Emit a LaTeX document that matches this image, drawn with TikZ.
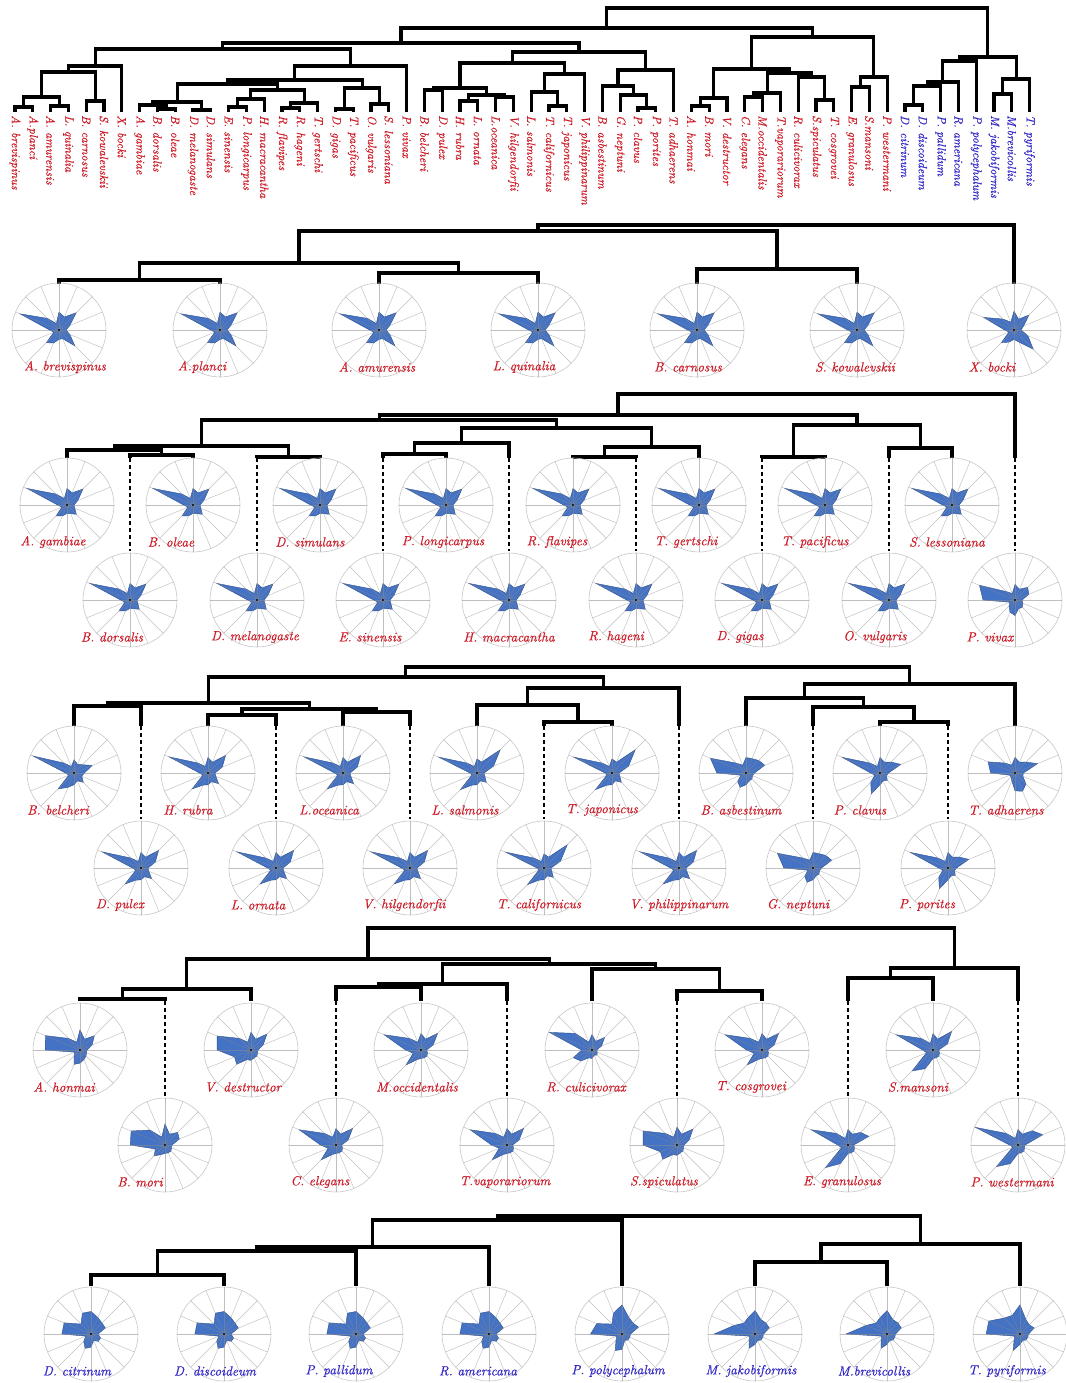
\documentclass[tikz,border=0pt]{standalone}
\usepackage{fontspec}
\newfontfamily\labfont[FakeBold=0.35]{lmroman10-italic.otf}
\usetikzlibrary{calc}
\definecolor{labred}{RGB}{206,28,40}
\definecolor{labblue}{RGB}{50,40,200}
\definecolor{rblue}{RGB}{68,114,196}
\definecolor{rblued}{RGB}{47,82,143}
\tikzset{
  br/.style={line width=3.1pt, line join=miter, draw=black},
  dsh/.style={line width=1.8pt, draw=black, dash pattern=on 4pt off 3pt},
  rim/.style={draw=black!22, line width=0.6pt},
  spk/.style={draw=black!45, line width=0.45pt, opacity=0.55},
  poly/.style={fill=rblue, draw=rblued, line width=0.4pt},
  lab/.style={font=\fontsize{13.2}{15}\selectfont\labfont, inner sep=0pt},
  tlab/.style={font=\fontsize{12}{14}\selectfont\labfont, text=labred, rotate=-90, anchor=west, inner sep=0pt},
}
% join two children at height y
\newcommand\jn[4]{%
  \coordinate (h#1) at (0,#4);
  \path (#2) -- (#3) coordinate[midway] (m#1);
  \coordinate (#1) at (m#1 |- h#1);
  \draw[br] (#2) |- (#1) -| (#3);
}
% radar chart: id, x, y, values, label, label dx, colour
\newcommand\radar[7]{%
  \begin{scope}[shift={(#2,#3)}]
    \draw[rim] (0,0) circle (47);
    \foreach \v [count=\k from 0] in #4 {\coordinate (#1p\k) at ({\k*22.5-90}:{\v*47});}
    \filldraw[poly] (#1p0) -- (#1p1) -- (#1p2) -- (#1p3) -- (#1p4) -- (#1p5) -- (#1p6) -- (#1p7) -- (#1p8) -- (#1p9) -- (#1p10) -- (#1p11) -- (#1p12) -- (#1p13) -- (#1p14) -- (#1p15) -- cycle;
    \foreach \k in {0,...,15} {\draw[spk] (0,0) -- ({\k*22.5-90}:47);}
    \fill (0,0) circle (1.2);
  \end{scope}
  \node[lab,text=#7] (#1L) at ({#2+(#6)},{#3+37}) {#5};
}
\def\rdBa{0.38,0.3,0.52,0.25,0.15,0.25,0.48,0.2,0.2,0.3,0.38,0.12,0.2,0.9,0.35,0.15}
\def\rdBb{0.4,0.25,0.45,0.22,0.15,0.32,0.58,0.28,0.2,0.28,0.38,0.12,0.2,0.7,0.33,0.18}
\def\rdAr{0.35,0.28,0.48,0.25,0.15,0.18,0.28,0.2,0.18,0.25,0.33,0.12,0.2,0.92,0.33,0.15}
\def\rdPv{0.33,0.25,0.38,0.32,0.15,0.18,0.22,0.2,0.33,0.28,0.18,0.12,0.68,0.82,0.25,0.15}
\def\rdBe{0.28,0.2,0.25,0.42,0.22,0.18,0.28,0.18,0.25,0.33,0.48,0.12,0.18,0.94,0.3,0.15}
\def\rdGe{0.33,0.25,0.53,0.33,0.15,0.18,0.32,0.2,0.25,0.28,0.48,0.12,0.18,0.9,0.3,0.15}
\def\rdTj{0.3,0.25,0.7,0.38,0.15,0.18,0.28,0.18,0.25,0.28,0.5,0.12,0.15,0.88,0.3,0.15}
\def\rdBs{0.33,0.33,0.38,0.43,0.18,0.15,0.18,0.18,0.25,0.33,0.25,0.12,0.62,0.82,0.3,0.18}
\def\rdPc{0.33,0.25,0.33,0.48,0.18,0.15,0.22,0.18,0.25,0.48,0.28,0.12,0.2,0.87,0.3,0.15}
\def\rdTa{0.33,0.25,0.33,0.52,0.18,0.18,0.33,0.42,0.38,0.18,0.12,0.12,0.52,0.62,0.3,0.18}
\def\rdHm{0.43,0.25,0.43,0.28,0.15,0.15,0.18,0.22,0.28,0.33,0.18,0.12,0.74,0.8,0.35,0.18}
\def\rdVd{0.38,0.25,0.48,0.28,0.15,0.15,0.18,0.18,0.22,0.22,0.43,0.38,0.72,0.78,0.35,0.18}
\def\rdBm{0.45,0.25,0.38,0.33,0.15,0.15,0.18,0.18,0.18,0.22,0.33,0.22,0.74,0.78,0.45,0.18}
\def\rdMo{0.35,0.25,0.5,0.28,0.12,0.15,0.18,0.18,0.18,0.22,0.45,0.18,0.33,0.85,0.35,0.18}
\def\rdRc{0.33,0.2,0.38,0.22,0.1,0.12,0.15,0.12,0.18,0.18,0.33,0.43,0.22,0.98,0.5,0.18}
\def\rdSm{0.35,0.25,0.56,0.33,0.12,0.15,0.18,0.18,0.18,0.43,0.63,0.15,0.22,0.85,0.35,0.15}
\def\rdEg{0.33,0.25,0.38,0.48,0.12,0.15,0.18,0.18,0.18,0.43,0.68,0.15,0.22,0.85,0.35,0.15}
\def\rdPw{0.33,0.25,0.43,0.57,0.15,0.15,0.18,0.18,0.18,0.43,0.65,0.12,0.18,0.98,0.35,0.15}
\def\rdDc{0.48,0.38,0.33,0.33,0.15,0.22,0.22,0.15,0.28,0.33,0.22,0.12,0.62,0.62,0.3,0.48}
\def\rdPp{0.62,0.38,0.33,0.38,0.18,0.18,0.18,0.15,0.33,0.38,0.18,0.12,0.67,0.58,0.3,0.48}
\def\rdMj{0.5,0.33,0.33,0.33,0.18,0.18,0.18,0.15,0.22,0.33,0.18,0.12,0.87,0.48,0.33,0.38}
\def\rdTp{0.62,0.33,0.28,0.33,0.18,0.18,0.18,0.15,0.22,0.38,0.18,0.12,0.72,0.72,0.48,0.43}
\begin{document}
\begin{tikzpicture}[x=1pt,y=-1pt]
\fill[white] (0,0) rectangle (1065,1383);
\useasboundingbox (0,0) rectangle (1065,1383);

%================ TOP DENDROGRAM =================
\foreach \i in {1,...,58} {\coordinate (t\i) at ({15+(\i-1)*17.8},112);}
% group A
\jn{tA12}{t1}{t2}{107}
\jn{tA34}{t3}{t4}{106}
\jn{tA14}{tA12}{tA34}{97}
\jn{tA56}{t5}{t6}{101}
\jn{tA16}{tA14}{tA56}{72}
\jn{tA}{tA16}{t7}{66}
% group B
\jn{tB910}{t9}{t10}{109}
\jn{tB810}{t8}{tB910}{105}
\jn{tB1112}{t11}{t12}{110}
\jn{tB812}{tB810}{tB1112}{102}
\jn{tB1314}{t13}{t14}{107}
\jn{tB1315}{tB1314}{t15}{99}
\jn{tB1617}{t16}{t17}{108}
\jn{tB1618}{tB1617}{t18}{103}
\jn{tB1318}{tB1315}{tB1618}{90}
\jn{tB818}{tB812}{tB1318}{84}
\jn{tB1920}{t19}{t20}{109}
\jn{tB2122}{t21}{t22}{104}
\jn{tB1922}{tB1920}{tB2122}{88}
\jn{tB822}{tB818}{tB1922}{80}
\jn{tB}{tB822}{t23}{66}
\jn{tAB}{tA}{tB}{49}
% group D
\jn{tD2425}{t24}{t25}{90}
\jn{tD2627}{t26}{t27}{101}
\jn{tD2829}{t28}{t29}{97}
\jn{tD2629}{tD2627}{tD2829}{95}
\jn{tD2429}{tD2425}{tD2629}{88}
\jn{tD3132}{t31}{t32}{106}
\jn{tD3032}{t30}{tD3132}{92}
\jn{tD3033}{tD3032}{t33}{74}
\jn{tD2433}{tD2429}{tD3033}{63}
\jn{tD3637}{t36}{t37}{108}
\jn{tD3537}{t35}{tD3637}{95}
\jn{tD3437}{t34}{tD3537}{86}
\jn{tD3438}{tD3437}{t38}{70}
\jn{tD}{tD2433}{tD3438}{52}
\jn{tABD}{tAB}{tD}{43}
% group E
\jn{tE3940}{t39}{t40}{106}
\jn{tE3941}{tE3940}{t41}{98}
\jn{tE4243}{t42}{t43}{97}
\jn{tE4244}{tE4243}{t44}{93}
\jn{tE4647}{t46}{t47}{100}
\jn{tE4547}{t45}{tE4647}{77}
\jn{tE4247}{tE4244}{tE4547}{73}
\jn{tE3947}{tE3941}{tE4247}{69}
\jn{tE4849}{t48}{t49}{87}
\jn{tE4850}{tE4849}{t50}{77}
\jn{tE}{tE3947}{tE4850}{37}
\jn{tABDE}{tABD}{tE}{28}
% group F
\jn{tF5152}{t51}{t52}{105}
\jn{tF5153}{tF5152}{t53}{86}
\jn{tF5154}{tF5153}{t54}{82}
\jn{tF5155}{tF5154}{t55}{61}
\jn{tF5657}{t56}{t57}{94}
\jn{tF5658}{tF5657}{t58}{79}
\jn{tF}{tF5155}{tF5658}{57}
\jn{troot}{tABDE}{tF}{8}
% labels
\foreach \i/\t in {1/{A. brevispinus},2/{A.planci},3/{A. amurensis},4/{L. quinalia},5/{B. carnosus},6/{S. kowalevskii},7/{X. bocki},8/{A. gambiae},9/{B. dorsalis},10/{B. oleae},11/{D. melanogaste},12/{D. simulans},13/{E. sinensis},14/{P. longicarpus},15/{H. macracantha},16/{R. flavipes},17/{R. hageni},18/{T. gertschi},19/{D. gigas},20/{T. pacificus},21/{O. vulgaris},22/{S. lessoniana},23/{P. vivax},24/{B. belcheri},25/{D. pulex},26/{H. rubra},27/{L. ornata},28/{L.oceanica},29/{V. hilgendorfii},30/{L. salmonis},31/{T. californicus},32/{T. japonicus},33/{V. philippinarum},34/{B. asbestinum},35/{G. neptuni},36/{P. clavus},37/{P. porites},38/{T. adhaerens},39/{A. honmai},40/{B. mori},41/{V. destructor},42/{C. elegans},43/{M.occidentalis},44/{T.vaporariorum},45/{R. culicivorax},46/{S.spiculatus},47/{T. cosgrovei},48/{E. granulosus},49/{S.mansoni},50/{P. westermani}}
  {\node[tlab] (tl\i) at ({15+(\i-1)*17.8},115) {\t};}
\foreach \i/\t in {51/{D. citrinum},52/{D. discoideum},53/{P. pallidum},54/{R. americana},55/{P. polycephalum},56/{M. jakobiformis},57/{M.brevicollis},58/{T. pyriformis}}
  {\node[tlab,text=labblue] (tl\i) at ({15+(\i-1)*17.8},115) {\t};}

%================ SECTION 2 =================
\coordinate (b1) at (59,284);
\coordinate (b2) at (220,284);
\coordinate (b3) at (379,284);
\coordinate (b4) at (538,284);
\coordinate (b5) at (697,284);
\coordinate (b6) at (857,284);
\coordinate (b7) at (1014,284);
\jn{bA12}{b1}{b2}{280}
\jn{bA34}{b3}{b4}{273}
\jn{bA14}{bA12}{bA34}{263}
\jn{bA56}{b5}{b6}{269}
\jn{bA16}{bA14}{bA56}{231}
\jn{bA}{bA16}{b7}{225}
\radar{ra1}{59}{330}{\rdBa}{A. brevispinus}{6}{labred}
\radar{ra2}{220}{330}{\rdBa}{A.planci}{-18}{labred}
\radar{ra3}{379}{330}{\rdBa}{A. amurensis}{-2}{labred}
\radar{ra4}{538}{330}{\rdBa}{L. quinalia}{-14}{labred}
\radar{ra5}{697}{330}{\rdBa}{B. carnosus}{-9}{labred}
\radar{ra6}{857}{330}{\rdBa}{S. kowalevskii}{-2}{labred}
\radar{ra7}{1014}{330}{\rdBb}{X. bocki}{-22}{labred}

%================ SECTION 3 =================
\foreach \i/\x in {8/67,10/193,12/320,14/446,16/573,18/699,20/825,22/952}
  {\coordinate (c\i) at (\x,458);}
\foreach \i/\x in {9/130,11/257,13/383,15/509,17/636,19/762,21/889,23/1015}
  {\coordinate (c\i) at (\x,458); \coordinate (c\i e) at (\x,551);}
\jn{c910}{c9}{c10}{455}
\jn{c810}{c8}{c910}{450}
\jn{c1112}{c11}{c12}{457}
\jn{c812}{c810}{c1112}{446}
\jn{c1314}{c13}{c14}{454}
\jn{c1315}{c1314}{c15}{443}
\jn{c1617}{c16}{c17}{457}
\jn{c1618}{c1617}{c18}{447}
\jn{c1318}{c1315}{c1618}{428}
\jn{c818}{c812}{c1318}{420}
\jn{c1920}{c19}{c20}{457}
\jn{c2122}{c21}{c22}{448}
\jn{c1922}{c1920}{c2122}{425}
\jn{c822}{c818}{c1922}{415}
\jn{cB}{c822}{c23}{394}
\foreach \i in {9,11,13,15,17,19,21,23} {\draw[dsh] (c\i) -- (c\i e);}
\radar{rc8}{67}{505}{\rdAr}{A. gambiae}{-14}{labred}
\radar{rc10}{193}{505}{\rdAr}{B. oleae}{-22}{labred}
\radar{rc12}{320}{505}{\rdAr}{D. simulans}{-10}{labred}
\radar{rc14}{446}{505}{\rdAr}{P. longicarpus}{-3}{labred}
\radar{rc16}{573}{505}{\rdAr}{R. flavipes}{-16}{labred}
\radar{rc18}{699}{505}{\rdAr}{T. gertschi}{-13}{labred}
\radar{rc20}{825}{505}{\rdAr}{T. pacificus}{-10}{labred}
\radar{rc22}{952}{505}{\rdAr}{S. lessoniana}{-5}{labred}
\radar{rc9}{130}{600}{\rdAr}{B. dorsalis}{-18}{labred}
\radar{rc11}{257}{600}{\rdAr}{D. melanogaste}{-2}{labred}
\radar{rc13}{383}{600}{\rdAr}{E. sinensis}{-13}{labred}
\radar{rc15}{509}{600}{\rdAr}{H. macracantha}{0}{labred}
\radar{rc17}{636}{600}{\rdAr}{R. hageni}{-20}{labred}
\radar{rc19}{762}{600}{\rdAr}{D. gigas}{-22}{labred}
\radar{rc21}{889}{600}{\rdAr}{O. vulgaris}{-14}{labred}
\radar{rc23}{1015}{600}{\rdPv}{P. vivax}{-25}{labred}

%================ SECTION 4 =================
\foreach \i/\x in {24/74,26/208,28/343,30/477,32/612,34/746,36/880,38/1015}
  {\coordinate (d\i) at (\x,726);}
\foreach \i/\x in {25/141,27/276,29/410,31/544,33/679,35/813,37/948}
  {\coordinate (d\i) at (\x,726); \coordinate (d\i e) at (\x,819);}
\jn{d2425}{d24}{d25}{706}
\jn{d2627}{d26}{d27}{715}
\jn{d2829}{d28}{d29}{712}
\jn{d2629}{d2627}{d2829}{709}
\jn{d2429}{d2425}{d2629}{703}
\jn{d3132}{d31}{d32}{722}
\jn{d3032}{d30}{d3132}{705}
\jn{d3033}{d3032}{d33}{688}
\jn{d2433}{d2429}{d3033}{677}
\jn{d3637}{d36}{d37}{722}
\jn{d3537}{d35}{d3637}{707}
\jn{d3437}{d34}{d3537}{698}
\jn{d3438}{d3437}{d38}{684}
\jn{dD}{d2433}{d3438}{667}
\foreach \i in {25,27,29,31,33,35,37} {\draw[dsh] (d\i) -- (d\i e);}
\radar{rd24}{74}{773}{\rdBe}{B. belcheri}{-16}{labred}
\radar{rd26}{208}{773}{\rdGe}{H. rubra}{-20}{labred}
\radar{rd28}{343}{773}{\rdGe}{L.oceanica}{-14}{labred}
\radar{rd30}{477}{773}{\rdTj}{L. salmonis}{-12}{labred}
\radar{rd32}{612}{773}{\rdTj}{T. japonicus}{-10}{labred}
\radar{rd34}{746}{773}{\rdBs}{B. asbestinum}{-5}{labred}
\radar{rd36}{880}{773}{\rdPc}{P. clavus}{-20}{labred}
\radar{rd38}{1015}{773}{\rdTa}{T. adhaerens}{-9}{labred}
\radar{rd25}{141}{868}{\rdGe}{D. pulex}{-21}{labred}
\radar{rd27}{276}{868}{\rdGe}{L. ornata}{-18}{labred}
\radar{rd29}{410}{868}{\rdGe}{V. hilgendorfii}{-6}{labred}
\radar{rd31}{544}{868}{\rdTj}{T. californicus}{-5}{labred}
\radar{rd33}{679}{868}{\rdGe}{V. philippinarum}{0}{labred}
\radar{rd35}{813}{868}{\rdBs}{G. neptuni}{-15}{labred}
\radar{rd37}{948}{868}{\rdPc}{P. porites}{-21}{labred}

%================ SECTION 5 =================
\foreach \i/\x in {39/80,41/251,43/421,45/592,47/762,49/933}
  {\coordinate (e\i) at (\x,1001);}
\foreach \i/\x in {40/165,42/336,44/507,46/677,48/848,50/1018}
  {\coordinate (e\i) at (\x,1001); \coordinate (e\i e) at (\x,1096);}
\jn{e3940}{e39}{e40}{999}
\jn{e3941}{e3940}{e41}{989}
\jn{e4243}{e42}{e43}{987}
\jn{e4244}{e4243}{e44}{984}
\jn{e4647}{e46}{e47}{991}
\jn{e4547}{e45}{e4647}{969}
\jn{e4247}{e4244}{e4547}{964}
\jn{e3947}{e3941}{e4247}{959}
\jn{e4849}{e48}{e49}{978}
\jn{e4850}{e4849}{e50}{968}
\jn{eE}{e3947}{e4850}{928}
\foreach \i in {40,42,44,46,48,50} {\draw[dsh] (e\i) -- (e\i e);}
\radar{re39}{80}{1050}{\rdHm}{A. honmai}{-16}{labred}
\radar{re41}{251}{1050}{\rdVd}{V. destructor}{-8}{labred}
\radar{re43}{421}{1050}{\rdMo}{M.occidentalis}{-4}{labred}
\radar{re45}{592}{1050}{\rdRc}{R. culicivorax}{-6}{labred}
\radar{re47}{762}{1050}{\rdMo}{T. cosgrovei}{-11}{labred}
\radar{re49}{933}{1050}{\rdSm}{S.mansoni}{-15}{labred}
\radar{re40}{165}{1145}{\rdBm}{B. mori}{-25}{labred}
\radar{re42}{336}{1145}{\rdMo}{C. elegans}{-16}{labred}
\radar{re44}{507}{1145}{\rdMo}{T.vaporariorum}{-2}{labred}
\radar{re46}{677}{1145}{\rdVd}{S.spiculatus}{-13}{labred}
\radar{re48}{848}{1145}{\rdEg}{E. granulosus}{-6}{labred}
\radar{re50}{1018}{1145}{\rdPw}{P. westermani}{-6}{labred}

%================ SECTION 6 =================
\foreach \i/\x in {51/91,52/224,53/356,54/489,55/622,56/755,57/887,58/1020}
  {\coordinate (f\i) at (\x,1286);}
\jn{f5152}{f51}{f52}{1275}
\jn{f5153}{f5152}{f53}{1251}
\jn{f5154}{f5153}{f54}{1247}
\jn{f5155}{f5154}{f55}{1220}
\jn{f5657}{f56}{f57}{1262}
\jn{f5658}{f5657}{f58}{1244}
\jn{fF}{f5155}{f5658}{1216}
\radar{rf51}{91}{1334}{\rdDc}{D. citrinum}{-14}{labblue}
\radar{rf52}{224}{1334}{\rdDc}{D. discoideum}{-9}{labblue}
\radar{rf53}{356}{1334}{\rdDc}{P. pallidum}{-17}{labblue}
\radar{rf54}{489}{1334}{\rdDc}{R. americana}{-11}{labblue}
\radar{rf55}{622}{1334}{\rdPp}{P. polycephalum}{-4}{labblue}
\radar{rf56}{755}{1334}{\rdMj}{M. jakobiformis}{-4}{labblue}
\radar{rf57}{887}{1334}{\rdMj}{M.brevicollis}{-13}{labblue}
\radar{rf58}{1020}{1334}{\rdTp}{T. pyriformis}{-13}{labblue}
\end{tikzpicture}
\end{document}
